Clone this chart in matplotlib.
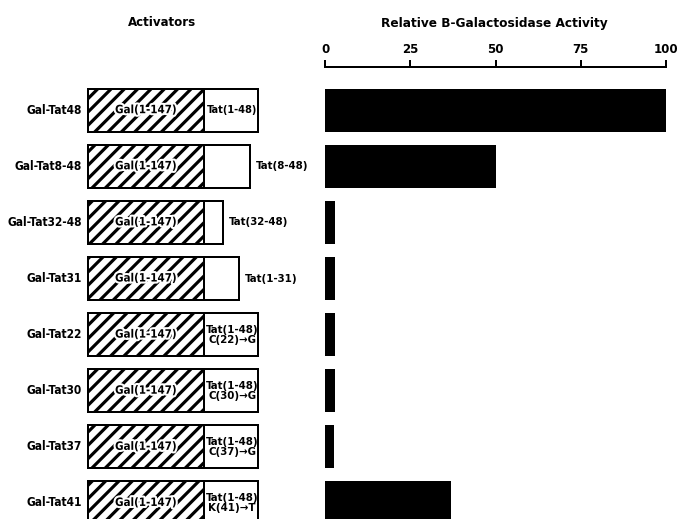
import matplotlib.pyplot as plt
import matplotlib.patheffects as pe
from matplotlib import font_manager
from matplotlib.patches import Rectangle

# data
activators = ["Gal-Tat48", "Gal-Tat8-48", "Gal-Tat32-48", "Gal-Tat31",
              "Gal-Tat22", "Gal-Tat30", "Gal-Tat37", "Gal-Tat41"]
tat_labels = ["Tat(1-48)", "Tat(8-48)", "Tat(32-48)", "Tat(1-31)",
              "Tat(1-48)\nC(22)→G", "Tat(1-48)\nC(30)→G",
              "Tat(1-48)\nC(37)→G", "Tat(1-48)\nK(41)→T"]
tat_residues = [48, 41, 17, 31, 48, 48, 48, 48]
label_inside = [True, False, False, False, True, True, True, True]
activity = [100, 50, 3.0, 3.0, 3.0, 2.8, 2.7, 37]
ticks = [0, 25, 50, 75, 100]

W, H, DPI = 677, 519, 120
plt.rcParams["hatch.linewidth"] = 1.9

# narrow bold font if we have one
installed = {f.name for f in font_manager.fontManager.ttflist}
narrow = [n for n in ["Liberation Sans Narrow", "DejaVu Sans Condensed"] if n in installed]
font = dict(family=narrow + ["DejaVu Sans"], fontstretch="condensed", fontweight="bold")

fig = plt.figure(figsize=(W / DPI, H / DPI), dpi=DPI)

# rows: 0 at top, axes top edge is the scale line
ylim = (7.5, -0.77)
ax_bottom = (H - 531) / H
ax_height = 464 / H

axl = fig.add_axes([0, ax_bottom, 325 / W, ax_height])
axr = fig.add_axes([325 / W, ax_bottom, 341 / W, ax_height])

# schematic of the fusion proteins (x in pixels of the left panel)
gal_x0, gal_w, px_per_res = 88, 116, 1.13
box_h = 0.77
axl.set_xlim(0, 325)
axl.set_ylim(*ylim)
axl.axis("off")
for i, name in enumerate(activators):
    axl.add_patch(Rectangle((gal_x0, i - box_h / 2), gal_w, box_h,
                            facecolor="white", edgecolor="black",
                            hatch="///", linewidth=1.2))
    tat_w = tat_residues[i] * px_per_res
    tat_x0 = gal_x0 + gal_w
    axl.add_patch(Rectangle((tat_x0, i - box_h / 2), tat_w, box_h,
                            facecolor="white", edgecolor="black", linewidth=1.2))
    axl.text(gal_x0 + gal_w / 2, i, "Gal(1-147)", ha="center", va="center",
             fontsize=6.9, **font,
             path_effects=[pe.withStroke(linewidth=2.5, foreground="white")])
    axl.text(gal_x0 - 6, i, name, ha="right", va="center", fontsize=7.1, **font)
    if label_inside[i]:
        two = "\n" in tat_labels[i]
        axl.text(tat_x0 + tat_w / 2 + 1, i, tat_labels[i], ha="center",
                 va="center", fontsize=6.8 if two else 6.6,
                 linespacing=1.0, **font)
    else:
        axl.text(tat_x0 + tat_w + 6, i, tat_labels[i], ha="left", va="center",
                 fontsize=6.8, **font)

# activity bars
axr.barh(range(len(activity)), activity, height=box_h, color="black")
axr.set_xlim(0, 100)
axr.set_ylim(*ylim)
for s in ["right", "bottom", "left"]:
    axr.spines[s].set_visible(False)
axr.spines["top"].set_linewidth(1.2)
axr.xaxis.tick_top()
axr.set_xticks(ticks)
axr.set_xticklabels([str(t) for t in ticks], **font, fontsize=7.9)
axr.tick_params(axis="x", direction="out", length=4.2, width=1.2, pad=2.5)
axr.set_yticks([])

fig.text(162 / W, 1 - 23 / H, "Activators", ha="center", va="center",
         fontsize=7.9, **font)
fig.text(494 / W, 1 - 24 / H, "Relative B-Galactosidase Activity",
         ha="center", va="center", fontsize=8.1, **font)

fig.savefig("out.png", dpi=DPI)
